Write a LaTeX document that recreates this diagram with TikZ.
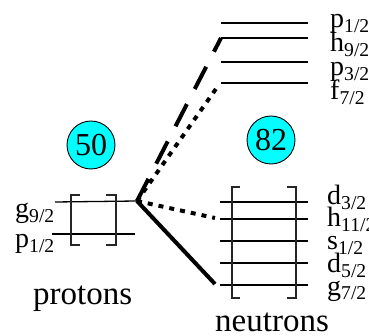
\documentclass[tikz,border=0pt]{standalone}
\usepackage{fontspec}
\setmainfont{Liberation Serif}
\definecolor{aquafill}{RGB}{0,255,255}
\begin{document}
\begin{tikzpicture}[x=1pt,y=-1pt,
  level/.style={line width=1.3pt},
  brack/.style={line width=1.2pt, black!85},
  lbl/.style={anchor=base west, inner sep=0pt, font=\fontsize{28}{30}\selectfont},
  big/.style={anchor=base west, inner sep=0pt, font=\fontsize{33}{36}\selectfont},
  magic/.style={circle, draw=black, line width=0.9pt, fill=aquafill, minimum size=48pt, inner sep=0pt, font=\fontsize{32}{34}\selectfont},
  thickline/.style={line width=4pt, line cap=butt}]
\useasboundingbox (0,0) rectangle (369,336);
% upper neutron levels
\foreach \n/\y in {tp/23, th/38, tpp/62, tf/83}{
  \coordinate (\n L) at (221,\y);
  \coordinate (\n R) at (308,\y);
  \draw[level] (\n L) -- (\n R);
}
\node[lbl] (lp12) at (330,28) {p\textsubscript{1/2}};
\node[lbl] (lh92) at (330,52) {h\textsubscript{9/2}};
\node[lbl] (lp32) at (330,76) {p\textsubscript{3/2}};
\node[lbl] (lf72) at (330,100) {f\textsubscript{7/2}};
% proton levels
\coordinate (pgL) at (55,202); \coordinate (J) at (137,201);
\coordinate (ppL) at (52,234); \coordinate (ppR) at (135,234);
\draw[level] (pgL) -- (J);
\draw[level] (ppL) -- (ppR);
\draw[brack] (80,195) -- (71,195) -- (71,245) -- (80,245);
\draw[brack] (106,195) -- (116,195) -- (116,245) -- (106,245);
\node[lbl] (lg92) at (15,218) {g\textsubscript{9/2}};
\node[lbl] (lpp12) at (15,248) {p\textsubscript{1/2}};
\node[big] (protons) at (33,305) {protons};
% lower neutron levels
\foreach \n/\y in {nd/202, nh/219, ns/241, ndd/263, ng/285}{
  \coordinate (\n L) at (220,\y);
  \coordinate (\n R) at (308,\y);
  \draw[level] (\n L) -- (\n R);
}
\draw[brack] (240,187) -- (232,187) -- (232,298) -- (240,298);
\draw[brack] (287,187) -- (296,187) -- (296,298) -- (287,298);
\node[lbl] (ld32) at (327,205) {d\textsubscript{3/2}};
\node[lbl] (lh112) at (327,227) {h\textsubscript{11/2}};
\node[lbl] (ls12) at (327,250) {s\textsubscript{1/2}};
\node[lbl] (ld52) at (327,273) {d\textsubscript{5/2}};
\node[lbl] (lg72) at (327,295) {g\textsubscript{7/2}};
\node[big] (neutrons) at (215,331) {neutrons};
% magic numbers
\node[magic] (c50) at (91,145) {50};
\node[magic] (c82) at (271,140) {82};
% excitations
\coordinate (hend) at (215,218);
\coordinate (gend) at (215,284);
\coordinate (fend) at (218,86);
\draw[thickline, dash pattern=on 25pt off 17pt] (J) -- (thL);
\draw[thickline, dash pattern=on 5pt off 6pt] (J) -- (fend);
\draw[thickline, dash pattern=on 5pt off 6pt] (J) -- (hend);
\draw[thickline] (J) -- (gend);
\end{tikzpicture}
\end{document}
